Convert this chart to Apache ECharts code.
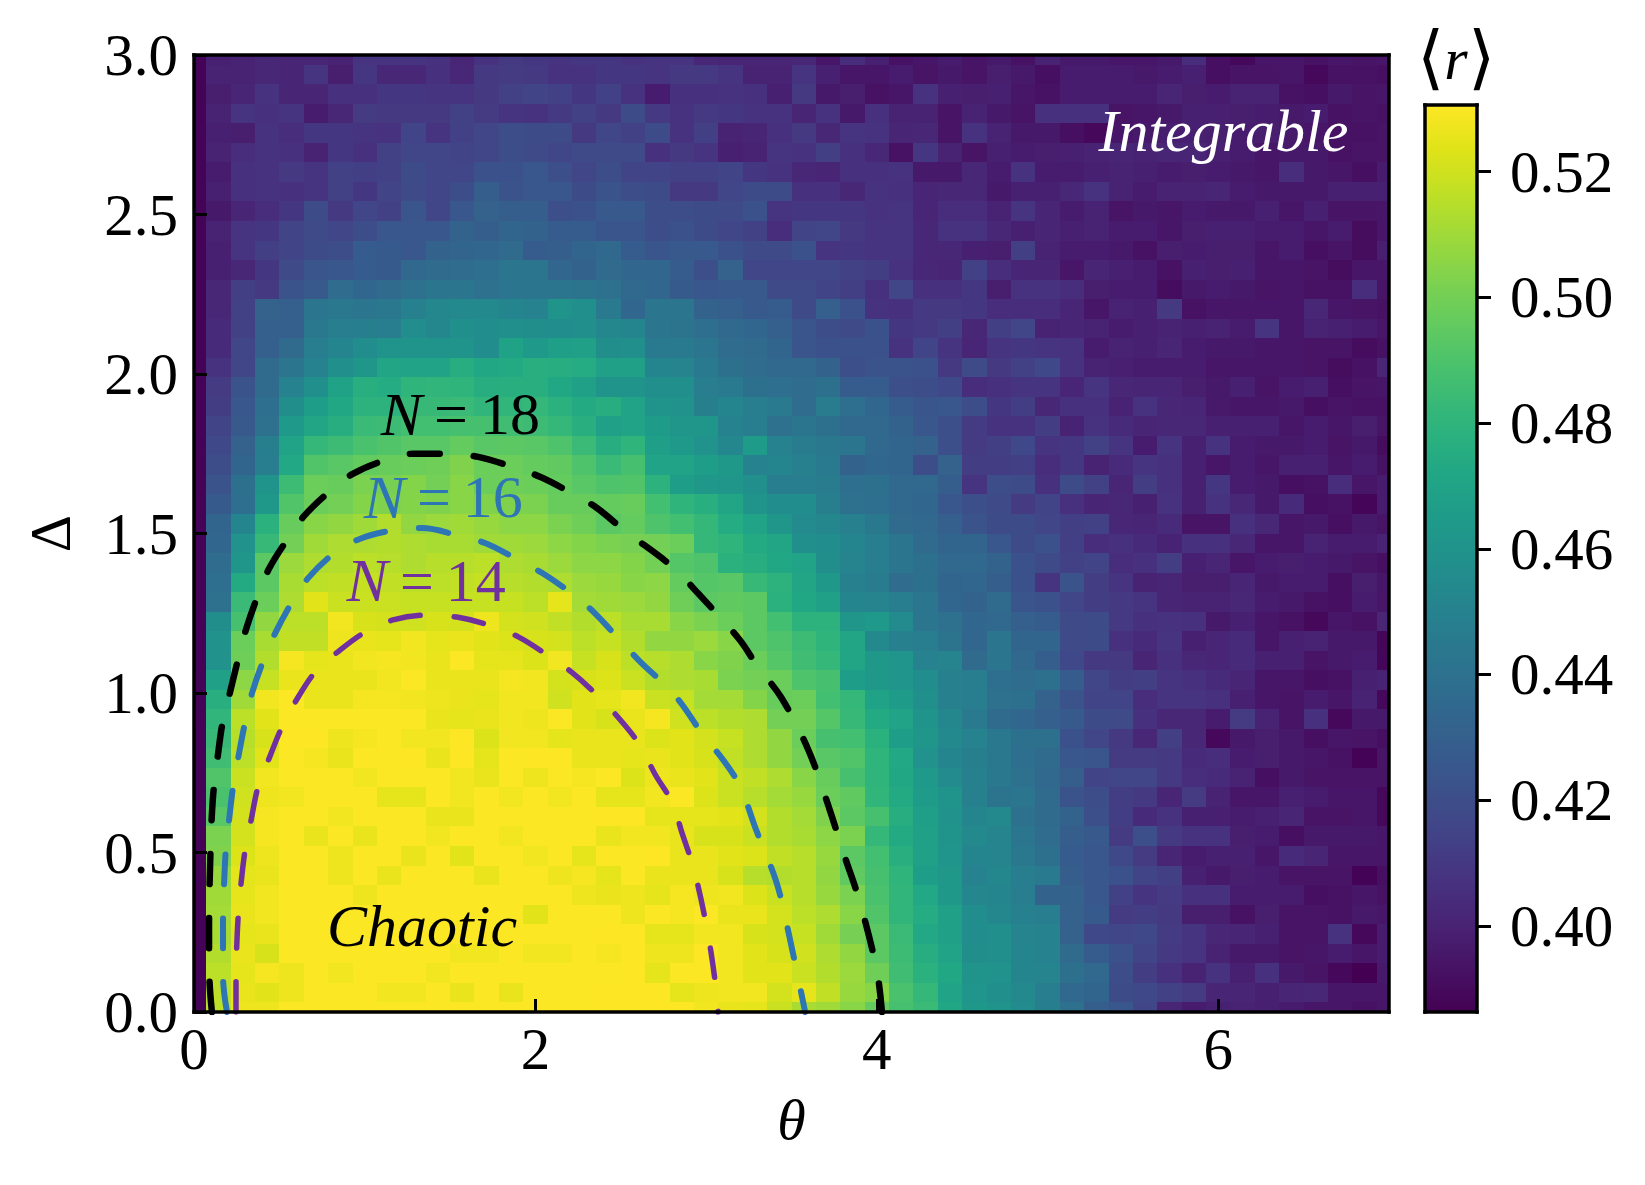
<!DOCTYPE html>
<html>
<head>
<meta charset="utf-8">
<title>Chaotic to integrable map</title>
<style>
  html, body { margin: 0; padding: 0; background: #fff; }
  #chart { width: 1645px; height: 1185px; }
</style>
<script src="https://cdn.jsdelivr.net/npm/echarts@6/dist/echarts.min.js"></script>
</head>
<body>
<div id="chart"></div>
<script>
// mean gap ratio <r> in thousandths
// rows run from delta = 3 (top) to delta = 0, columns from theta = 0 to 7
const rRows = [
  [387,399,400,402,401,401,400,408,408,408,407,401,407,410,409,408,409, 409,407,408,408,402,401,401,401,402,395,405,399,393,395,397,394,396, 393,400,396,396,395,395,396,405,392,389,395,395,393,395,394,395],
  [387,400,400,402,401,408,398,409,402,402,406,402,410,411,410,407,407, 409,409,408,410,410,408,400,400,408,399,395,395,397,394,396,394,398, 396,392,397,397,397,396,397,399,392,394,394,395,389,393,393,392],
  [387,398,401,407,401,401,406,406,409,409,408,408,410,414,415,414,409, 414,407,397,406,406,407,406,399,410,396,398,393,395,407,399,398,399, 395,393,397,397,397,397,401,398,397,400,400,393,392,396,394,395],
  [387,400,408,406,408,397,402,411,410,410,410,414,411,408,407,410,414, 410,419,410,407,410,409,407,407,401,407,396,406,400,400,394,400,396, 394,406,406,406,394,395,396,399,399,398,397,396,397,393,394,393],
  [387,399,398,407,405,409,409,408,407,415,408,414,416,420,419,419,410, 416,414,419,407,413,400,401,406,410,402,408,407,401,402,394,407,400, 396,396,392,389,395,396,398,399,398,397,398,396,395,393,393,394],
  [387,400,405,407,406,400,409,406,414,416,416,415,416,420,418,416,418, 418,418,406,410,408,399,400,408,407,413,406,402,393,409,400,394,399, 397,398,399,400,401,400,401,401,399,397,395,396,396,393,394,394],
  [387,397,406,407,410,408,414,413,414,419,416,416,422,422,425,421,416, 420,415,415,414,414,415,409,407,402,401,406,406,407,396,396,402,397, 407,397,397,399,400,399,397,398,397,396,395,405,396,395,392,397],
  [387,399,406,407,406,408,414,409,415,418,416,420,429,423,425,425,419, 423,420,419,410,410,416,419,419,406,406,402,407,406,401,402,402,396, 399,399,402,407,400,397,400,400,401,397,396,396,396,399,399,399],
  [387,396,401,405,409,419,410,416,414,424,416,425,431,429,429,421,422, 426,426,420,420,419,418,422,408,409,409,409,407,408,401,405,405,400, 408,401,397,400,394,396,395,397,396,396,399,395,399,394,394,395],
  [387,400,408,409,415,418,416,420,425,425,425,432,429,433,432,428,428, 424,424,420,422,419,416,414,405,415,416,410,408,408,402,407,407,402, 399,401,399,400,397,397,395,398,399,399,397,397,395,397,391,395],
  [387,399,408,413,415,419,420,428,427,425,432,433,434,436,428,429,433, 435,428,424,426,426,422,418,418,422,408,409,408,408,402,402,399,398, 413,400,397,397,396,393,398,397,398,398,395,397,392,394,391,398],
  [387,399,402,409,418,424,425,428,427,435,436,437,438,442,442,434,432, 436,434,434,428,421,431,416,416,416,416,414,412,407,402,401,414,405, 401,401,395,401,399,397,393,399,398,399,395,395,394,391,395,395],
  [387,402,413,410,423,426,437,434,436,440,442,442,440,443,443,443,441, 440,435,434,427,425,426,426,418,418,415,413,406,416,406,406,409,398, 407,407,405,398,397,397,391,396,397,396,394,395,393,393,405,394],
  [387,402,414,431,430,442,444,442,444,449,453,454,454,452,450,460,458, 445,434,442,442,432,430,426,428,418,430,422,407,406,410,410,409,405, 405,405,401,395,400,399,410,393,395,395,395,395,402,395,394,393],
  [387,404,414,430,430,444,447,448,447,456,453,458,456,458,457,456,458, 453,452,442,441,438,435,434,430,424,420,418,422,409,410,413,402,413, 416,400,401,400,397,399,400,399,400,397,408,395,400,399,397,395],
  [387,404,416,430,436,447,452,456,460,460,460,460,456,469,464,467,468, 457,458,445,445,442,437,436,433,424,422,422,422,407,415,408,401,408, 409,408,407,397,400,399,401,397,396,396,395,395,394,394,391,393],
  [387,407,416,436,442,450,458,462,471,470,470,476,472,474,477,476,475, 468,468,452,451,445,439,437,435,435,432,421,423,423,422,410,418,410, 414,417,407,400,399,397,397,397,395,395,395,395,394,391,393,401],
  [387,411,423,436,450,458,469,477,475,480,481,480,476,477,477,472,468, 460,460,458,458,447,445,439,438,437,439,428,428,421,420,417,405,406, 408,408,401,408,402,401,401,398,396,399,394,397,399,392,394,395],
  [387,412,425,438,457,466,472,479,479,483,483,484,481,481,482,478,474, 476,470,460,459,448,452,447,445,437,446,438,434,428,424,425,420,409, 412,402,406,406,400,407,402,401,396,395,395,396,392,394,393,393],
  [387,415,426,440,464,471,476,484,485,487,487,488,488,486,485,482,477, 468,470,465,462,462,450,447,440,442,439,435,435,432,425,421,411,407, 407,412,400,407,404,401,402,402,399,399,399,395,397,395,398,394],
  [387,417,431,448,470,482,485,489,491,493,493,496,493,494,493,490,484, 476,480,467,464,459,453,465,450,446,444,442,435,433,431,421,411,413, 417,408,409,414,408,397,408,399,407,397,396,396,397,394,396,391],
  [387,420,433,447,473,491,493,496,497,498,499,503,498,498,496,495,490, 484,488,470,470,466,463,450,452,449,445,432,434,433,420,431,412,412, 413,405,409,400,404,408,406,399,395,397,395,399,399,395,397,393],
  [387,423,439,460,485,498,497,502,501,504,500,505,498,499,498,496,493, 490,491,479,466,463,462,458,447,447,446,438,439,435,435,429,408,420, 419,406,419,414,401,412,406,399,409,397,396,392,393,405,395,397],
  [387,427,438,463,491,498,500,504,503,504,503,505,503,503,502,497,497, 496,497,487,480,477,471,460,456,456,448,440,438,435,434,425,421,418, 411,415,406,401,402,399,407,399,407,402,396,404,392,393,388,397],
  [387,433,452,478,497,505,507,510,514,507,509,510,508,506,506,502,499, 494,496,490,487,482,475,470,462,455,453,449,444,436,435,430,423,419, 419,416,413,414,402,401,404,394,394,406,402,395,396,392,396,394],
  [387,434,459,483,500,510,513,513,514,513,512,512,510,510,509,506,504, 502,501,500,498,482,480,474,471,458,456,452,447,442,436,433,433,425, 419,422,413,405,406,404,400,406,406,402,395,395,400,397,397,400],
  [387,437,462,494,509,513,514,516,515,513,515,515,516,513,512,509,506, 506,504,500,492,490,478,476,472,470,457,451,447,443,439,435,435,432, 422,418,414,415,405,406,412,399,401,395,397,398,397,396,394,392],
  [387,438,474,494,512,516,517,518,517,516,516,517,518,515,514,513,509, 508,505,506,496,492,493,483,479,471,463,449,446,437,439,433,434,429, 422,408,423,412,408,400,401,398,398,401,396,397,397,392,398,395],
  [387,440,484,498,513,524,519,519,519,518,518,518,518,518,516,525,511, 510,509,507,499,494,495,494,478,472,468,452,451,447,443,434,432,436, 424,422,416,412,410,408,401,400,400,402,397,396,393,392,397,395],
  [387,457,488,507,516,516,528,522,521,520,522,521,527,521,520,517,514, 516,512,512,505,502,498,494,487,479,479,462,464,455,443,440,434,435, 430,428,418,419,410,406,407,406,396,399,395,393,389,395,393,401],
  [387,459,498,512,517,517,527,526,525,528,525,526,524,523,522,521,516, 518,514,507,507,509,505,494,490,485,480,471,454,449,447,441,434,442, 433,433,418,419,406,404,408,399,401,404,395,399,400,396,396,388],
  [387,459,499,514,529,525,526,528,529,528,526,530,525,525,523,528,518, 522,516,515,513,505,503,498,492,486,482,471,463,461,450,451,436,442, 435,429,417,410,410,401,406,402,401,404,399,399,394,396,397,388],
  [387,468,506,518,526,526,526,526,528,530,526,526,526,529,528,521,522, 523,519,514,513,512,502,500,498,490,488,466,463,461,456,449,447,438, 437,439,428,416,412,413,408,406,404,401,395,395,392,393,399,400],
  [387,477,510,528,530,526,526,529,529,528,527,526,525,528,528,520,524, 525,528,519,518,511,511,504,497,498,487,482,469,465,458,449,447,440, 439,431,423,415,415,405,408,408,406,399,395,394,397,395,400,389],
  [387,481,516,524,530,530,530,530,530,530,526,525,526,528,527,530,524, 522,526,529,520,516,514,513,500,500,492,483,474,470,460,453,445,436, 434,430,427,419,418,406,402,402,397,411,400,394,406,389,396,396],
  [387,483,515,522,531,531,527,529,530,528,528,531,523,528,528,525,526, 526,526,523,524,521,518,513,507,498,488,487,478,466,462,454,450,444, 439,439,422,416,410,402,413,402,389,396,398,396,392,395,394,392],
  [387,486,516,524,530,529,526,530,530,531,526,531,525,530,531,531,526, 526,525,526,524,522,517,513,507,500,493,491,480,473,459,452,448,444, 438,436,425,424,411,411,410,404,405,397,398,396,395,393,387,394],
  [387,491,519,528,530,530,530,528,530,530,530,528,526,530,527,530,529, 530,523,527,526,524,519,517,513,505,497,488,480,472,464,455,449,444, 440,435,429,415,416,416,410,405,404,400,392,396,394,394,394,394],
  [387,489,520,527,528,530,530,530,525,525,530,528,530,528,530,528,530, 525,525,528,530,523,519,515,511,508,498,495,481,474,465,460,449,441, 442,436,423,420,412,410,401,411,400,395,395,399,397,395,395,389],
  [387,493,521,529,530,530,528,530,530,530,526,526,530,530,530,530,530, 531,531,525,525,525,524,521,514,511,503,494,488,476,467,459,452,454, 440,436,432,421,412,404,407,399,399,397,399,401,394,394,395,389],
  [387,502,521,529,530,526,530,526,530,530,528,530,530,528,530,530,530, 526,528,528,526,522,522,519,514,512,506,502,482,474,468,460,454,451, 443,437,429,426,411,421,410,407,407,398,397,392,396,396,396,395],
  [387,503,523,527,530,530,527,530,530,526,530,524,530,530,528,530,525, 530,530,531,526,526,524,523,517,515,508,494,487,477,468,461,452,451, 444,439,428,425,417,411,401,397,399,399,395,404,401,395,395,395],
  [387,508,525,526,530,530,527,530,526,530,530,530,526,530,530,527,529, 525,530,526,526,526,522,515,514,515,507,495,488,480,466,463,450,453, 447,445,429,425,422,415,413,399,396,398,397,394,394,394,387,392],
  [387,510,525,528,530,530,530,527,530,530,530,530,530,530,530,530,527, 526,527,525,529,527,528,523,519,515,508,502,489,481,473,463,453,452, 447,432,432,425,414,408,411,406,406,397,397,397,392,393,395,393],
  [387,511,526,528,530,530,530,530,530,530,530,530,530,530,524,530,530, 530,527,530,529,530,526,526,521,516,513,505,491,481,475,468,456,453, 449,447,431,427,411,412,410,398,398,393,398,394,394,393,396,395],
  [387,512,525,526,530,530,530,530,530,530,530,530,530,530,530,530,530, 531,531,525,525,528,528,522,521,518,510,501,494,484,473,468,456,458, 451,450,431,417,416,417,411,408,402,401,399,394,394,407,389,397],
  [387,514,526,522,530,530,530,530,530,530,530,528,528,530,528,528,530, 529,531,527,527,531,528,524,522,520,513,507,494,485,476,470,457,458, 452,450,436,428,422,415,410,408,400,396,396,394,395,397,395,397],
  [387,516,525,529,527,530,528,530,530,530,528,530,530,530,530,530,530, 530,531,525,530,530,528,524,524,519,514,509,499,486,478,472,460,459, 452,451,439,435,420,412,406,400,407,399,406,396,394,389,386,396],
  [387,516,526,524,527,530,530,530,528,528,530,526,530,526,530,530,530, 531,531,531,525,527,528,528,521,525,517,508,505,489,482,470,461,458, 454,447,435,433,419,417,414,411,401,401,399,401,402,395,395,395],
  [387,516,527,527,530,530,530,530,530,530,530,530,530,530,530,530,530, 531,531,531,531,528,526,525,519,512,510,505,496,488,484,472,463,460, 455,448,440,429,425,416,401,397,399,400,399,397,395,395,393,395]
];

// dashed boundaries, one theta and one delta list per system size
const n18Theta = [0.105,0.09,0.088,0.094,0.11,0.14,0.17,0.21,0.26,0.305,0.37,0.44,0.545,0.645,0.79,0.93,1.12,1.285,1.5,1.665,1.87,2.03,2.21,2.36,2.52,2.8,2.95,3.196,3.3,3.44,3.6,3.72,3.81,3.9,4.0,4.03];
const n18Delta = [0,0.11,0.257,0.455,0.665,0.805,0.915,1.0,1.11,1.2,1.3,1.39,1.48,1.555,1.63,1.687,1.73,1.75,1.75,1.74,1.708,1.677,1.627,1.58,1.51,1.397,1.314,1.167,1.084,0.986,0.82,0.64,0.49,0.345,0.13,0];
const n16Theta = [0.193,0.17,0.17,0.17,0.176,0.187,0.205,0.23,0.26,0.3,0.34,0.405,0.475,0.574,0.668,0.814,0.97,1.166,1.336,1.54,1.705,1.89,2.04,2.21,2.34,2.61,2.77,2.86,2.98,3.1,3.2,3.29,3.41,3.47,3.58];
const n16Delta = [0,0.11,0.194,0.31,0.398,0.514,0.6,0.71,0.8,0.91,1.0,1.1,1.187,1.285,1.36,1.435,1.483,1.51,1.517,1.495,1.47,1.42,1.376,1.313,1.254,1.1,1.02,0.963,0.87,0.79,0.706,0.575,0.41,0.28,0];
const n14Theta = [0.246,0.246,0.25,0.26,0.275,0.3,0.334,0.375,0.44,0.515,0.6,0.71,0.84,1.0,1.166,1.365,1.54,1.745,1.9,2.07,2.21,2.36,2.49,2.61,2.7,2.8,2.86,2.93,3.01,3.06,3.07];
const n14Delta = [0,0.1,0.2,0.31,0.4,0.51,0.6,0.705,0.795,0.893,0.978,1.066,1.128,1.19,1.229,1.244,1.238,1.21,1.176,1.119,1.066,0.994,0.92,0.838,0.746,0.657,0.559,0.444,0.246,0.066,0];

const thetaTicks = [0, 2, 4, 6];
const colorbarTicks = [0.40, 0.42, 0.44, 0.46, 0.48, 0.50, 0.52];
const viridis = ['#440154','#471365','#482475','#463480','#414487','#3b528b','#355f8d','#2f6c8e','#2a788e','#25848e','#21918c','#1e9c89','#22a884','#2fb47c','#44bf70','#5ec962','#7ad151','#9bd93c','#bddf26','#dfe318','#fde725'];

const R_MIN = 0.3863, R_MAX = 0.5306;
const THETA_MAX = 7, DELTA_MAX = 3;
const serif = '"Liberation Serif", "Times New Roman", serif';
const BLUE = '#2e75b6', PURPLE = '#7030a0';

const nCols = rRows[0].length, nRows = rRows.length;
const thetaStep = THETA_MAX / (nCols - 1), deltaStep = DELTA_MAX / (nRows - 1);

const cells = [];
rRows.forEach((row, j) => {
  row.forEach((v, i) => {
    cells.push([i * thetaStep, DELTA_MAX - j * deltaStep, v / 1000]);
  });
});

const zip = (xs, ys) => xs.map((x, i) => [x, ys[i]]);

function renderCell(params, api) {
  const th = api.value(0), de = api.value(1);
  const a = api.coord([th - thetaStep / 2, de + deltaStep / 2]);
  const b = api.coord([th + thetaStep / 2, de - deltaStep / 2]);
  const x0 = Math.round(a[0]), y0 = Math.round(a[1]);
  const shape = echarts.graphic.clipRectByRect({
    x: x0, y: y0, width: Math.round(b[0]) - x0, height: Math.round(b[1]) - y0
  }, params.coordSys);
  return shape && { type: 'rect', shape: shape, style: { fill: api.visual('color') } };
}

const frameLine = { show: true, onZero: false, lineStyle: { color: '#000', width: 3.5, cap: 'square' } };
const tickLabel = { color: '#000', fontFamily: serif, fontSize: 59 };
// tick text sits a little below its tick in the reference
const loweredTick = { v: { color: '#000', fontFamily: serif, fontSize: 59, padding: [9, 0, 0, 0] } };

// line-only axes that close the frame of a grid
const frameX = (gridIndex, position, extra) => Object.assign({
  type: 'value', gridIndex, position, min: 0, max: 1, z: 5,
  axisLine: frameLine, axisTick: { show: false }, axisLabel: { show: false }, splitLine: { show: false }
}, extra);
const frameY = (gridIndex, position, min, max) => ({
  type: 'value', gridIndex, position, min, max, z: 5,
  axisLine: frameLine, axisTick: { show: false }, axisLabel: { show: false }, splitLine: { show: false }
});

const boundary = (name, color, width, pts) => ({
  name, type: 'line', data: pts, showSymbol: false, symbol: 'none', smooth: 0.35, z: 3,
  lineStyle: { color, width, type: [30, 34], cap: 'round' }
});

const label = (text, theta, delta, color, rich) => ({
  type: 'scatter', data: [[theta, delta]], symbolSize: 1, z: 4, silent: true,
  itemStyle: { color: 'transparent', opacity: 1 },
  label: {
    show: true, position: 'inside', formatter: text, color, opacity: 1,
    fontFamily: serif, fontSize: 60, fontStyle: 'italic', rich
  }
});
const nLabel = (n, theta, delta, color) => label('{i|N}{n|\u2009=\u2009' + n + '}', theta, delta, color, {
  i: { fontFamily: serif, fontSize: 62, fontStyle: 'italic', color },
  n: { fontFamily: serif, fontSize: 60, fontStyle: 'normal', color }
});

const chart = echarts.init(document.getElementById('chart'), null, { renderer: 'canvas' });

chart.setOption({
  animation: false,
  backgroundColor: '#fff',
  grid: [
    { left: 194, top: 55, width: 1195, height: 957, outerBoundsMode: 'none' },
    { left: 1425, top: 105, width: 52, height: 907, outerBoundsMode: 'none' }
  ],
  xAxis: [
    {
      type: 'value', gridIndex: 0, position: 'bottom', min: 0, max: THETA_MAX, z: 5,
      axisLine: frameLine,
      axisTick: { inside: true, length: 13, customValues: thetaTicks, lineStyle: { color: '#000', width: 3 } },
      axisLabel: Object.assign({ margin: 12, customValues: thetaTicks }, tickLabel),
      splitLine: { show: false },
      name: '\u03b8', nameLocation: 'middle', nameGap: 83,
      nameTextStyle: { color: '#000', fontFamily: serif, fontSize: 58, fontStyle: 'italic' }
    },
    frameX(0, 'top', { min: 0, max: THETA_MAX }),
    frameX(1, 'bottom'),
    frameX(1, 'top', {
      name: '{b|\u27e8}{i|r}{b|\u27e9}', nameLocation: 'middle', nameGap: 7,
      nameTextStyle: {
        color: '#000', fontFamily: serif, fontSize: 58, padding: [0, 0, 0, 10],
        rich: {
          b: { fontSize: 70, color: '#000' },
          i: { fontFamily: serif, fontSize: 60, fontStyle: 'italic', color: '#000' }
        }
      }
    })
  ],
  yAxis: [
    {
      type: 'value', gridIndex: 0, position: 'left', min: 0, max: DELTA_MAX, interval: 0.5, z: 5,
      axisLine: frameLine,
      axisTick: { inside: true, length: 13, lineStyle: { color: '#000', width: 3 } },
      axisLabel: Object.assign({ margin: 16, formatter: v => '{v|' + v.toFixed(1) + '}', rich: loweredTick }, tickLabel),
      splitLine: { show: false },
      name: '\u0394', nameLocation: 'middle', nameGap: 110,
      nameTextStyle: { color: '#000', fontFamily: serif, fontSize: 58 }
    },
    frameY(0, 'right', 0, DELTA_MAX),
    frameY(1, 'left', R_MIN, R_MAX),
    {
      type: 'value', gridIndex: 1, position: 'right', min: R_MIN, max: R_MAX, z: 5,
      axisLine: frameLine,
      axisTick: { customValues: colorbarTicks, length: 14, lineStyle: { color: '#000', width: 3 } },
      axisLabel: Object.assign({ customValues: colorbarTicks, margin: 33, formatter: v => '{v|' + v.toFixed(2) + '}', rich: loweredTick }, tickLabel),
      splitLine: { show: false }
    }
  ],
  visualMap: {
    type: 'continuous', seriesIndex: 0, dimension: 2, min: R_MIN, max: R_MAX,
    left: 1425, top: 105, itemWidth: 52, itemHeight: 907, padding: 0,
    calculable: false, realtime: false, text: null, showLabel: false, z: 1,
    inRange: { color: viridis }
  },
  series: [
    {
      type: 'custom', coordinateSystem: 'cartesian2d', xAxisIndex: 0, yAxisIndex: 0,
      data: cells, encode: { x: 0, y: 1 }, renderItem: renderCell, clip: true, silent: true, progressive: 0, z: 1
    },
    boundary('N=18', '#000', 6.5, zip(n18Theta, n18Delta)),
    boundary('N=16', BLUE, 6, zip(n16Theta, n16Delta)),
    boundary('N=14', PURPLE, 5.5, zip(n14Theta, n14Delta)),
    label('Integrable', 6.03, 2.75, '#fff'),
    label('Chaotic', 1.336, 0.256, '#000'),
    nLabel(18, 1.56, 1.86, '#000'),
    nLabel(16, 1.46, 1.6, BLUE),
    nLabel(14, 1.36, 1.338, PURPLE)
  ]
});
</script>
</body>
</html>
